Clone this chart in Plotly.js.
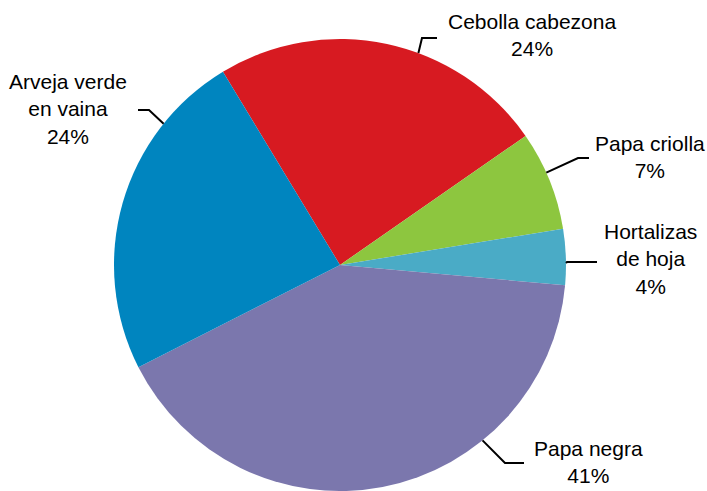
<!DOCTYPE html>
<html>
<head>
<meta charset="utf-8">
<script src="https://cdn.plot.ly/plotly-3.0.1.min.js"></script>
<style>html,body{margin:0;padding:0;background:#fff;}#chart{width:707px;height:491px;}</style>
</head>
<body>
<div id="chart"></div>
<script>
// ---- data ----
const categories = ["Cebolla cabezona", "Papa criolla", "Hortalizas de hoja", "Papa negra", "Arveja verde en vaina"];
const labelText = ["Cebolla cabezona", "Papa criolla", "Hortalizas<br>de hoja", "Papa negra", "Arveja verde<br>en vaina"];
const shares = [24.0, 7.1, 4.0, 41.1, 23.8];
const colors = ["#d71a21", "#8dc63f", "#4aabc6", "#7b77ad", "#0085bf"];

// ---- layout config (pixels) ----
const W = 707, H = 491;
const cx = 340, cy = 265, R = 226;
// leader attach angle (deg clockwise from top), elbow point, end point, text centre
const leaders = [
  {ang: 20.3,  elbow: [422, 38],  end: [437, 38],  text: [532, 35]},
  {ang: 65.9,  elbow: [578, 158], end: [589, 158], text: [650, 157]},
  {ang: 89.5,  elbow: [567, 262], end: [597, 262], text: [650, 259]},
  {ang: 140.9, elbow: [505, 463], end: [524, 463], text: [588, 462]},
  {ang: 308.7, elbow: [149, 110], end: [138, 110], text: [68, 109]}
];

const px = x => x / W;
const py = y => 1 - y / H;

const total = shares.reduce((a, b) => a + b, 0);

const trace = {
  type: "pie",
  labels: categories,
  values: shares,
  sort: false,
  direction: "clockwise",
  rotation: -31.2,
  marker: {colors: colors, line: {width: 0}},
  textinfo: "none",
  hoverinfo: "label+percent",
  showlegend: false,
  domain: {x: [(cx - R) / W, (cx + R) / W], y: [0, (2 * R) / H]}
};

const shapes = [];
const annotations = [];
leaders.forEach((L, i) => {
  const a = L.ang * Math.PI / 180;
  const sx = cx + R * Math.sin(a), sy = cy - R * Math.cos(a);
  shapes.push({
    type: "path", xref: "paper", yref: "paper",
    path: `M ${px(sx)} ${py(sy)} L ${px(L.elbow[0])} ${py(L.elbow[1])} L ${px(L.end[0])} ${py(L.end[1])}`,
    line: {color: "#000", width: 2}
  });
  const pct = Math.round(shares[i] / total * 100);
  annotations.push({
    xref: "paper", yref: "paper", x: px(L.text[0]), y: py(L.text[1]),
    xanchor: "center", yanchor: "middle", showarrow: false, align: "center",
    text: labelText[i] + "<br>" + pct + "%",
    font: {family: "Liberation Sans, Arial, sans-serif", size: 21, color: "#000"}
  });
});

const layout = {
  width: W, height: H,
  margin: {l: 0, r: 0, t: 0, b: 0},
  paper_bgcolor: "#fff",
  shapes: shapes,
  annotations: annotations
};

Plotly.newPlot("chart", [trace], layout, {displayModeBar: false, staticPlot: true});
</script>
</body>
</html>
